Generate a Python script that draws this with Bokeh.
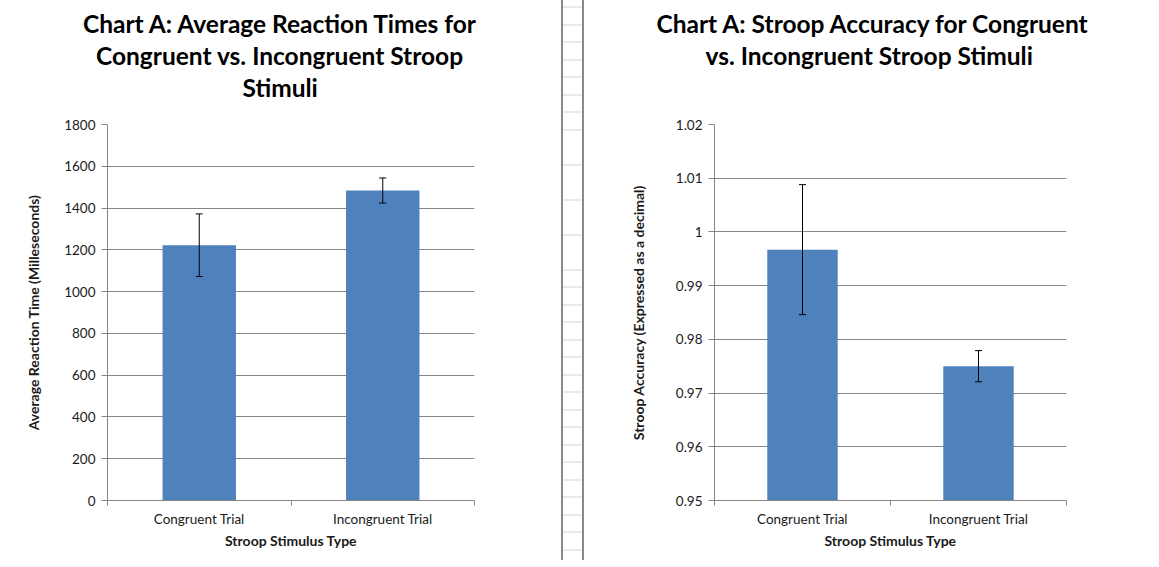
from bokeh.plotting import figure
from bokeh.layouts import row
from bokeh.models import (ColumnDataSource, Range1d, FixedTicker, Whisker, TeeHead, Title, Div)
from bokeh.embed import file_html
from bokeh.resources import INLINE

categories = ["Congruent Trial", "Incongruent Trial"]
rt_means = [1222, 1484]
rt_errors = [150, 60]
acc_means = [0.9967, 0.9750]
acc_errors = [0.0121, 0.0029]

rt_ticks = [0, 200, 400, 600, 800, 1000, 1200, 1400, 1600, 1800]
acc_ticks = [0.95, 0.96, 0.97, 0.98, 0.99, 1.0, 1.01, 1.02]
acc_tick_labels = ["0.95", "0.96", "0.97", "0.98", "0.99", "1", "1.01", "1.02"]

title_left = ["Chart   A: Average Reaction Times for", "Congruent vs. Incongruent Stroop", "Stimuli"]
title_right = ["Chart A: Stroop Accuracy for Congruent", "vs. Incongruent Stroop Stimuli"]

BAR = "#4F81BD"
GRID = "#868686"
FONT = "Lato"
TXT = "#1a1a1a"
H = 560


def make_chart(width, borders, yrange, yticks, ylabels, means, errors, base, ylabel,
               title_lines, title_offsets, title_gap, label_standoff):
    bl, br, bt, bb = borders
    p = figure(width=width, height=H, x_range=Range1d(0, 2), y_range=Range1d(*yrange),
               output_backend="svg", toolbar_location=None, title=None,
               min_border_left=bl, min_border_right=br, min_border_top=bt, min_border_bottom=bb)
    p.outline_line_color = None
    p.xgrid.grid_line_color = None
    p.ygrid.grid_line_color = GRID
    p.ygrid.grid_line_width = 1

    xs = [0.5 + i for i in range(len(categories))]
    src = ColumnDataSource(dict(x=xs, top=means,
                                upper=[m + e for m, e in zip(means, errors)],
                                lower=[m - e for m, e in zip(means, errors)]))
    p.vbar(x="x", top="top", bottom=base, width=0.4, source=src, fill_color=BAR, line_color=None)
    w = Whisker(source=src, base="x", upper="upper", lower="lower", line_color="black", line_width=1,
                upper_head=TeeHead(size=7, line_color="black", line_width=1),
                lower_head=TeeHead(size=7, line_color="black", line_width=1), level="overlay")
    p.add_layout(w)

    # x axis
    p.xaxis.ticker = FixedTicker(ticks=xs, minor_ticks=[0, 1, 2])
    p.xaxis.major_label_overrides = {x: c for x, c in zip(xs, categories)}
    p.xaxis.major_tick_line_color = None
    p.xaxis.major_tick_out = 0
    p.xaxis.major_tick_in = 0
    p.xaxis.minor_tick_line_color = GRID
    p.xaxis.minor_tick_out = 5
    p.xaxis.minor_tick_in = 0
    p.xaxis.axis_line_color = GRID
    p.xaxis.major_label_standoff = 5
    p.xaxis.axis_label = "Stroop Stimulus Type"
    p.xaxis.axis_label_standoff = 2

    # y axis
    p.yaxis.ticker = FixedTicker(ticks=yticks)
    p.yaxis.major_label_overrides = {t: l for t, l in zip(yticks, ylabels)}
    p.yaxis.minor_tick_line_color = None
    p.yaxis.major_tick_line_color = GRID
    p.yaxis.major_tick_out = 6
    p.yaxis.major_tick_in = 0
    p.yaxis.axis_line_color = GRID
    p.yaxis.major_label_standoff = 6
    p.yaxis.axis_label = ylabel
    p.yaxis.axis_label_standoff = label_standoff

    for ax in (p.xaxis, p.yaxis):
        ax.major_label_text_font = FONT
        ax.major_label_text_font_size = "13.5px"
        ax.major_label_text_color = TXT
        ax.axis_label_text_font = FONT
        ax.axis_label_text_font_size = "14px"
        ax.axis_label_text_font_style = "bold"
        ax.axis_label_text_color = TXT

    # titles: a thin spacer nearest the frame, then the lines from bottom to top
    p.add_layout(Title(text=" ", text_font_size="1px", standoff=title_gap), "above")
    for line, off in reversed(list(zip(title_lines, title_offsets))):
        p.add_layout(Title(text=line, align="left", offset=off, text_font=FONT,
                           text_font_size="24.5px", text_font_style="bold", text_color="black",
                           standoff=1), "above")
    return p


p1 = make_chart(555, (107, 81, 124, 60), (0, 1800), rt_ticks, [str(t) for t in rt_ticks],
                rt_means, rt_errors, 0, "Average Reaction Times (Milleseconds)".replace("Times", "Time"),
                title_left, [-24.5, -11.5, 135], 19, 19)
p3 = make_chart(563, (122, 89, 124, 60), (0.95, 1.02), acc_ticks, acc_tick_labels,
                acc_means, acc_errors, 0.95, "Stroop Accuracy (Expressed as a decimal)",
                title_right, [-58, -9], 51, 26)

# spreadsheet strip between the two charts
strip_html = (
    '<div style="position:absolute;left:6px;top:0;width:23px;height:%dpx;box-sizing:border-box;'
    'border-left:2px solid #8a8a8a;border-right:2px solid #8a8a8a;'
    'background-image:repeating-linear-gradient(to bottom, transparent 0px, transparent 16.5px, '
    '#d4d4d4 16.5px, #d4d4d4 17.5px);background-position:0 -9.5px;"></div>' % H
)
strip = Div(text=strip_html, width=37, height=H, margin=0,
            styles={"position": "relative", "overflow": "hidden"})

layout = row(p1, strip, p3, spacing=0)
open("out.html", "w").write(file_html(layout, INLINE))
